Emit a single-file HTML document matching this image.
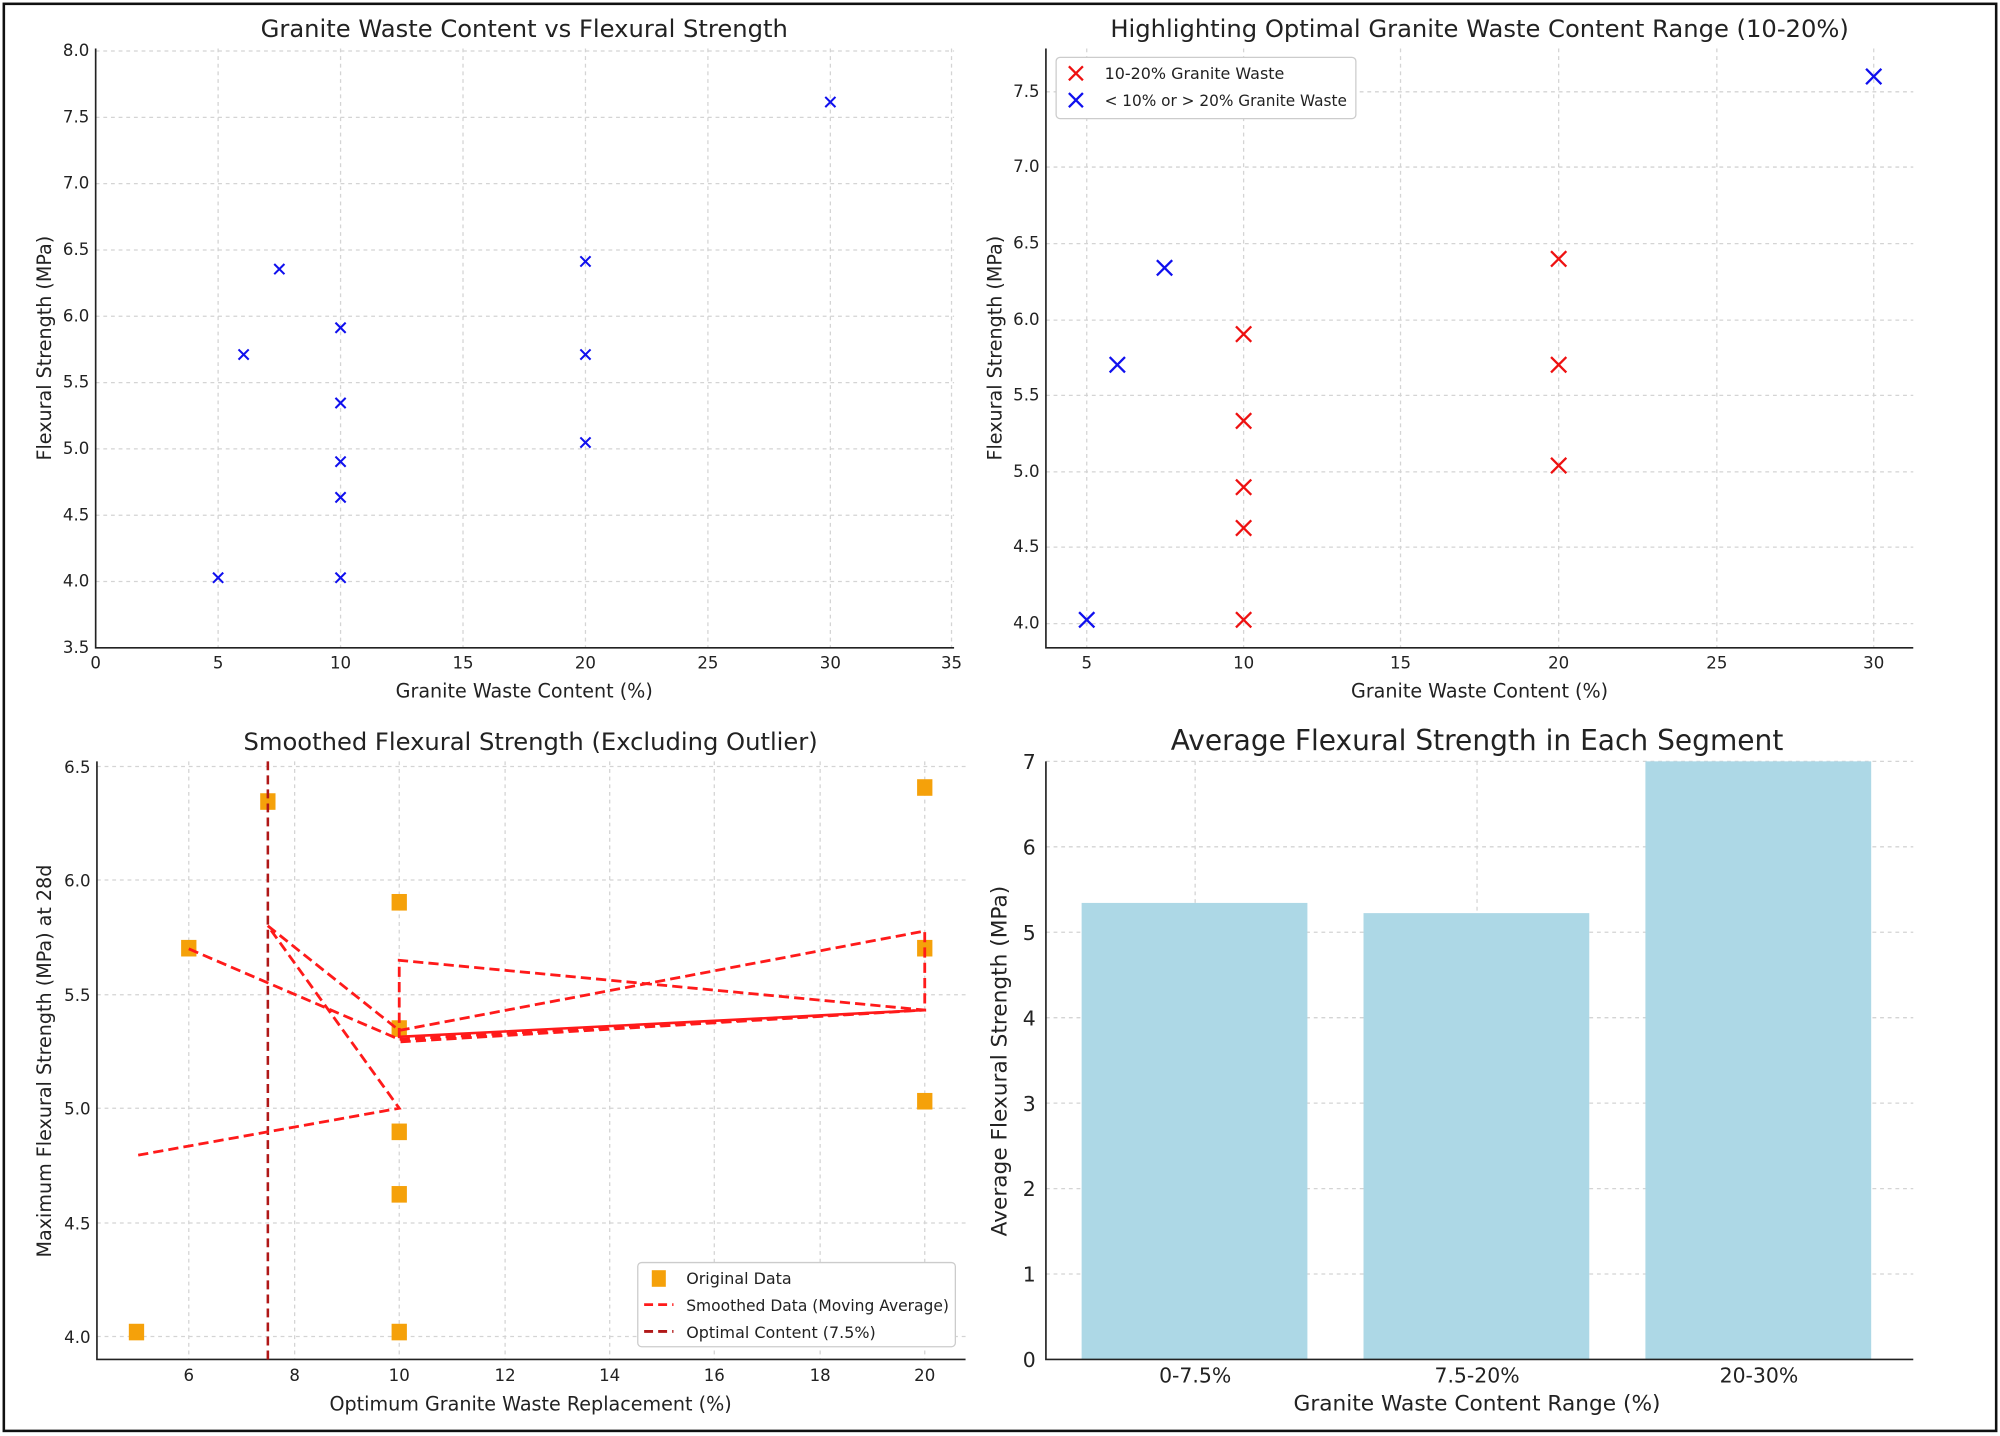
<!DOCTYPE html>
<html><head><meta charset="utf-8"><style>
html,body{margin:0;padding:0;background:#fff;}
svg{display:block;}
text{font-family:"DejaVu Sans","Liberation Sans",sans-serif;fill:#222;}
.g{stroke:#d4d4d4;stroke-width:1;stroke-dasharray:3,3;fill:none;}
.ax{stroke:#222;stroke-width:1.3;fill:none;}
.t{font-size:13px;}
.tt{font-size:19px;}
.al{font-size:15px;}
</style></head><body>
<svg width="2000" height="1436" viewBox="0 0 1568 1126" preserveAspectRatio="none" xmlns="http://www.w3.org/2000/svg">
<rect x="0" y="0" width="1568" height="1126" fill="#fff"/>
<rect x="3" y="3" width="1562" height="1119" fill="none" stroke="#111" stroke-width="2"/>

<!-- Panel 1 -->
<g>
<g class="g">
<line x1="171" y1="38" x2="171" y2="508"/><line x1="267" y1="38" x2="267" y2="508"/><line x1="363" y1="38" x2="363" y2="508"/><line x1="459" y1="38" x2="459" y2="508"/><line x1="555" y1="38" x2="555" y2="508"/><line x1="651" y1="38" x2="651" y2="508"/><line x1="746" y1="38" x2="746" y2="508"/>
<line x1="75" y1="40" x2="748" y2="40"/><line x1="75" y1="92" x2="748" y2="92"/><line x1="75" y1="144" x2="748" y2="144"/><line x1="75" y1="196" x2="748" y2="196"/><line x1="75" y1="248" x2="748" y2="248"/><line x1="75" y1="300" x2="748" y2="300"/><line x1="75" y1="352" x2="748" y2="352"/><line x1="75" y1="404" x2="748" y2="404"/><line x1="75" y1="456" x2="748" y2="456"/>
</g>
<path class="ax" d="M75 38 V508 H748"/>
<g class="t" text-anchor="end">
<text x="70" y="44">8.0</text><text x="70" y="96">7.5</text><text x="70" y="148">7.0</text><text x="70" y="200">6.5</text><text x="70" y="252">6.0</text><text x="70" y="304">5.5</text><text x="70" y="356">5.0</text><text x="70" y="408">4.5</text><text x="70" y="460">4.0</text><text x="70" y="512">3.5</text>
</g>
<g class="t" text-anchor="middle">
<text x="75" y="524">0</text><text x="171" y="524">5</text><text x="267" y="524">10</text><text x="363" y="524">15</text><text x="459" y="524">20</text><text x="555" y="524">25</text><text x="651" y="524">30</text><text x="746" y="524">35</text>
</g>
<text class="al" x="411" y="547" text-anchor="middle">Granite Waste Content (%)</text>
<text class="al" transform="translate(40,273) rotate(-90)" text-anchor="middle">Flexural Strength (MPa)</text>
<text class="tt" x="411" y="29" text-anchor="middle">Granite Waste Content vs Flexural Strength</text>
<g stroke="#1010ee" stroke-width="1.6">
<path d="M167 449l8 8M175 449l-8 8 M187 274l8 8M195 274l-8 8 M215 207l8 8M223 207l-8 8 M263 253l8 8M271 253l-8 8 M263 312l8 8M271 312l-8 8 M263 358l8 8M271 358l-8 8 M263 386l8 8M271 386l-8 8 M263 449l8 8M271 449l-8 8 M455 201l8 8M463 201l-8 8 M455 274l8 8M463 274l-8 8 M455 343l8 8M463 343l-8 8 M647 76l8 8M655 76l-8 8"/>
</g>
</g>

<!-- Panel 2 -->
<g>
<g class="g">
<line x1="852" y1="38" x2="852" y2="508"/><line x1="975" y1="38" x2="975" y2="508"/><line x1="1098" y1="38" x2="1098" y2="508"/><line x1="1222" y1="38" x2="1222" y2="508"/><line x1="1346" y1="38" x2="1346" y2="508"/><line x1="1469" y1="38" x2="1469" y2="508"/>
<line x1="820" y1="72" x2="1500" y2="72"/><line x1="820" y1="131" x2="1500" y2="131"/><line x1="820" y1="191" x2="1500" y2="191"/><line x1="820" y1="251" x2="1500" y2="251"/><line x1="820" y1="310" x2="1500" y2="310"/><line x1="820" y1="370" x2="1500" y2="370"/><line x1="820" y1="429" x2="1500" y2="429"/><line x1="820" y1="489" x2="1500" y2="489"/>
</g>
<path class="ax" d="M820 38 V508 H1500"/>
<g class="t" text-anchor="end">
<text x="815" y="76">7.5</text><text x="815" y="135">7.0</text><text x="815" y="195">6.5</text><text x="815" y="255">6.0</text><text x="815" y="314">5.5</text><text x="815" y="374">5.0</text><text x="815" y="433">4.5</text><text x="815" y="493">4.0</text>
</g>
<g class="t" text-anchor="middle">
<text x="852" y="524">5</text><text x="975" y="524">10</text><text x="1098" y="524">15</text><text x="1222" y="524">20</text><text x="1346" y="524">25</text><text x="1469" y="524">30</text>
</g>
<text class="al" x="1160" y="547" text-anchor="middle">Granite Waste Content (%)</text>
<text class="al" transform="translate(785,273) rotate(-90)" text-anchor="middle">Flexural Strength (MPa)</text>
<text class="tt" x="1160" y="29" text-anchor="middle">Highlighting Optimal Granite Waste Content Range (10-20%)</text>
<g stroke="#1010ee" stroke-width="1.8">
<path d="M846 480l12 12M858 480l-12 12 M870 280l12 12M882 280l-12 12 M907 204l12 12M919 204l-12 12 M1463 54l12 12M1475 54l-12 12"/>
</g>
<g stroke="#ee1111" stroke-width="1.8">
<path d="M969 256l12 12M981 256l-12 12 M969 324l12 12M981 324l-12 12 M969 376l12 12M981 376l-12 12 M969 408l12 12M981 408l-12 12 M969 480l12 12M981 480l-12 12 M1216 197l12 12M1228 197l-12 12 M1216 280l12 12M1228 280l-12 12 M1216 359l12 12M1228 359l-12 12"/>
</g>
<rect x="828" y="45" width="235" height="48" rx="3" fill="#fff" stroke="#ccc"/>
<path d="M838 52l11 11M849 52l-11 11" stroke="#ee1111" stroke-width="1.8"/>
<path d="M838 73l11 11M849 73l-11 11" stroke="#1010ee" stroke-width="1.8"/>
<text x="866" y="62" style="font-size:12.5px">10-20% Granite Waste</text>
<text x="866" y="83" style="font-size:12.5px" textLength="190" lengthAdjust="spacingAndGlyphs">&lt; 10% or &gt; 20% Granite Waste</text>
</g>

<!-- Panel 3 -->
<g>
<g class="g">
<line x1="148" y1="597" x2="148" y2="1066"/><line x1="231" y1="597" x2="231" y2="1066"/><line x1="313" y1="597" x2="313" y2="1066"/><line x1="396" y1="597" x2="396" y2="1066"/><line x1="478" y1="597" x2="478" y2="1066"/><line x1="560" y1="597" x2="560" y2="1066"/><line x1="643" y1="597" x2="643" y2="1066"/><line x1="725" y1="597" x2="725" y2="1066"/>
<line x1="76" y1="601" x2="757" y2="601"/><line x1="76" y1="690" x2="757" y2="690"/><line x1="76" y1="780" x2="757" y2="780"/><line x1="76" y1="869" x2="757" y2="869"/><line x1="76" y1="959" x2="757" y2="959"/><line x1="76" y1="1048" x2="757" y2="1048"/>
</g>
<path class="ax" d="M76 597 V1066 H757"/>
<g class="t" text-anchor="end">
<text x="71" y="606">6.5</text><text x="71" y="695">6.0</text><text x="71" y="785">5.5</text><text x="71" y="874">5.0</text><text x="71" y="964">4.5</text><text x="71" y="1053">4.0</text>
</g>
<g class="t" text-anchor="middle">
<text x="148" y="1083">6</text><text x="231" y="1083">8</text><text x="313" y="1083">10</text><text x="396" y="1083">12</text><text x="478" y="1083">14</text><text x="560" y="1083">16</text><text x="643" y="1083">18</text><text x="725" y="1083">20</text>
</g>
<text class="al" x="416" y="1106" text-anchor="middle">Optimum Granite Waste Replacement (%)</text>
<text class="al" transform="translate(40,832) rotate(-90)" text-anchor="middle">Maximum Flexural Strength (MPa) at 28d</text>
<text class="tt" x="416" y="588" text-anchor="middle">Smoothed Flexural Strength (Excluding Outlier)</text>
<g fill="#f5a10a">
<rect x="101" y="1038" width="12" height="13"/><rect x="142" y="737" width="12" height="13"/><rect x="204" y="622" width="12" height="13"/>
<rect x="307" y="701" width="12" height="13"/><rect x="307" y="800" width="12" height="13"/><rect x="307" y="881" width="12" height="13"/><rect x="307" y="930" width="12" height="13"/><rect x="307" y="1038" width="12" height="13"/>
<rect x="719" y="611" width="12" height="13"/><rect x="719" y="737" width="12" height="13"/><rect x="719" y="857" width="12" height="13"/>
</g>
<line x1="210" y1="597" x2="210" y2="1066" stroke="#b01818" stroke-width="2" stroke-dasharray="7,4"/>
<polyline fill="none" stroke="#ff1a1a" stroke-width="2.2" stroke-dasharray="8,4" points="148,744 313,815 725,792 313,817 313,753 725,792 725,730 313,808 210,726 313,869 107,906"/>
<polyline fill="none" stroke="#ff1a1a" stroke-width="2" points="313,813 725,792"/>
<rect x="500" y="990" width="249" height="66" rx="3" fill="#fff" stroke="#ccc"/>
<rect x="511" y="996" width="11" height="13" fill="#f5a10a"/>
<line x1="505" y1="1023" x2="528" y2="1023" stroke="#ff1a1a" stroke-width="2.2" stroke-dasharray="7,4"/>
<line x1="505" y1="1044" x2="528" y2="1044" stroke="#b01818" stroke-width="2.2" stroke-dasharray="7,4"/>
<text x="538" y="1007" style="font-size:12.5px">Original Data</text>
<text x="538" y="1028" style="font-size:12.5px" textLength="206" lengthAdjust="spacingAndGlyphs">Smoothed Data (Moving Average)</text>
<text x="538" y="1049" style="font-size:12.5px">Optimal Content (7.5%)</text>
</g>

<!-- Panel 4 -->
<g>
<g class="g">
<line x1="937" y1="597" x2="937" y2="1066"/><line x1="1158" y1="597" x2="1158" y2="1066"/><line x1="1379" y1="597" x2="1379" y2="1066"/>
<line x1="820" y1="597" x2="1500" y2="597"/><line x1="820" y1="664" x2="1500" y2="664"/><line x1="820" y1="731" x2="1500" y2="731"/><line x1="820" y1="798" x2="1500" y2="798"/><line x1="820" y1="865" x2="1500" y2="865"/><line x1="820" y1="932" x2="1500" y2="932"/><line x1="820" y1="999" x2="1500" y2="999"/>
</g>
<g fill="#add8e6">
<rect x="848" y="708" width="177" height="358"/>
<rect x="1069" y="716" width="177" height="350"/>
<rect x="1290" y="597" width="177" height="469"/>
</g>
<path class="ax" d="M820 597 V1066 H1500"/>
<g style="font-size:16px" text-anchor="end">
<text x="812" y="603">7</text><text x="812" y="670">6</text><text x="812" y="737">5</text><text x="812" y="804">4</text><text x="812" y="871">3</text><text x="812" y="938">2</text><text x="812" y="1005">1</text><text x="812" y="1072">0</text>
</g>
<g style="font-size:16px" text-anchor="middle">
<text x="937" y="1084">0-7.5%</text><text x="1158" y="1084">7.5-20%</text><text x="1379" y="1084">20-30%</text>
</g>
<text x="1158" y="1106" style="font-size:17px" text-anchor="middle">Granite Waste Content Range (%)</text>
<text transform="translate(789,832) rotate(-90)" style="font-size:17px" text-anchor="middle">Average Flexural Strength (MPa)</text>
<text x="1158" y="588" style="font-size:22px" text-anchor="middle">Average Flexural Strength in Each Segment</text>
</g>
</svg>
</body></html>
